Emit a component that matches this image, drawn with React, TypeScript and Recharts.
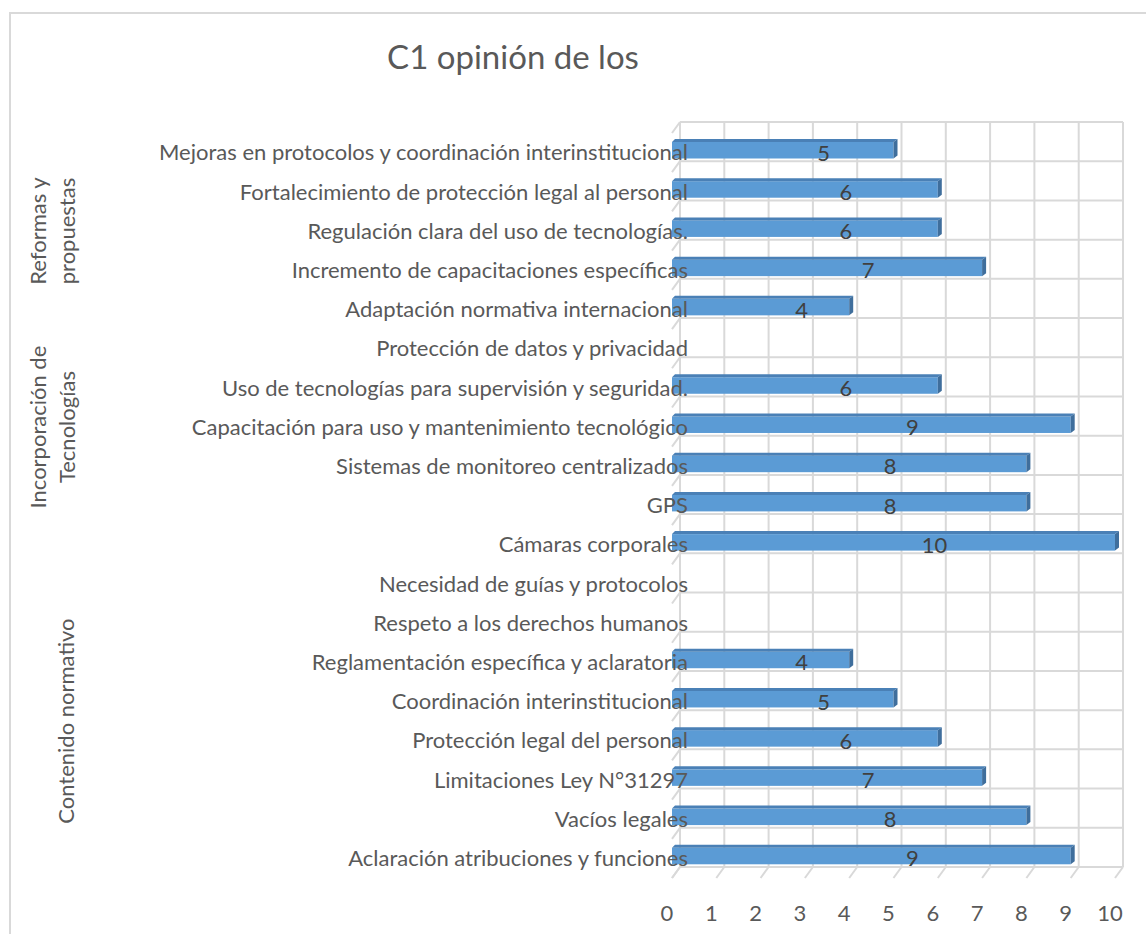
import React from "react";
import { Bar, BarChart, CartesianGrid, XAxis, YAxis } from "recharts";

const categories = [
  "Mejoras en protocolos y coordinación interinstitucional",
  "Fortalecimiento de protección legal al personal",
  "Regulación clara del uso de tecnologías.",
  "Incremento de capacitaciones específicas",
  "Adaptación normativa internacional",
  "Protección de datos y privacidad",
  "Uso de tecnologías para supervisión y seguridad.",
  "Capacitación para uso y mantenimiento tecnológico",
  "Sistemas de monitoreo centralizados",
  "GPS",
  "Cámaras corporales",
  "Necesidad de guías y protocolos",
  "Respeto a los derechos humanos",
  "Reglamentación específica y aclaratoria",
  "Coordinación interinstitucional",
  "Protección legal del personal",
  "Limitaciones Ley N°31297",
  "Vacíos legales",
  "Aclaración atribuciones y funciones",
];

const values: (number | null)[] = [5, 6, 6, 7, 4, null, 6, 9, 8, 8, 10, null, null, 4, 5, 6, 7, 8, 9];

const groupLabels = [["Reformas y", "propuestas"], ["Incorporación de", "Tecnologías"], ["Contenido normativo"]];
// row where each group label sits (excel places them a bit oddly)
const groupAnchorRows = [2, 7, 14.5];

const xTicks = [0, 1, 2, 3, 4, 5, 6, 7, 8, 9, 10];

const title = "C1 opinión de los";

const data = categories.map((name, i) => ({ name, value: values[i] }));

const W = 1146;
const H = 934;
const TOP = 122;
const BOTTOM = 867;
const LEFT = 680;
const RIGHT = 1123;
const BAND = (BOTTOM - TOP) / categories.length;
// 3d depth: front is shifted left/down from the back wall
const DX = 8;
const DY = 11;

const FONT = "Lato, 'Open Sans', sans-serif";
const FS = 22;
const TEXT = "#595959";
const GRID = "#d9d9d9";

function CategoryTick(props: any) {
  const { x, y, payload, index } = props;
  const gi = groupAnchorRows.findIndex((r) => Math.floor(r) === index);
  return (
    <g>
      {index === 0 && (
        <line x1={LEFT - DX} y1={y - BAND / 2 + DY} x2={LEFT} y2={y - BAND / 2} stroke={GRID} strokeWidth={2} />
      )}
      <line x1={LEFT - DX} y1={y + BAND / 2 + DY} x2={LEFT} y2={y + BAND / 2} stroke={GRID} strokeWidth={2} />
      <text x={x + 8} y={y + DY} dy="0.35em" textAnchor="end" fill={TEXT} fontSize={FS} fontFamily={FONT}>
        {payload.value}
      </text>
      {gi >= 0 &&
        (() => {
          const lines = groupLabels[gi];
          const cy = y + DY + (groupAnchorRows[gi] - index) * BAND;
          const cols = lines.length === 1 ? [66] : [38, 67];
          return lines.map((ln, k) => (
            <text
              key={k}
              x={cols[k]}
              y={cy}
              dy="0.35em"
              textAnchor="middle"
              transform={`rotate(-90 ${cols[k]} ${cy})`}
              fill={TEXT}
              fontSize={FS}
              fontFamily={FONT}
            >
              {ln}
            </text>
          ));
        })()}
    </g>
  );
}

function ValueTick(props: any) {
  const { x, y, payload } = props;
  return (
    <g>
      <line x1={x - DX} y1={y + DY} x2={x} y2={y} stroke={GRID} strokeWidth={2} />
      <text x={x - 13} y={y + 46} dy="0.35em" textAnchor="middle" fill={TEXT} fontSize={FS} fontFamily={FONT}>
        {payload.value}
      </text>
    </g>
  );
}

function Bar3D(props: any) {
  const { x, y, width, height, value } = props;
  if (value == null || !(width > 0)) return <g />;
  const cy = y + height / 2;
  const x0 = x - DX;
  const xe = x + width - DX;
  const ft = cy;
  const fb = cy + 16.5;
  return (
    <g>
      <rect x={x0} y={ft} width={xe - x0} height={fb - ft} fill="#5b9bd5" />
      <polygon points={`${x0},${ft} ${x0 + 3},${ft - 3} ${xe + 4},${ft - 3} ${xe},${ft}`} fill="#4a80b6" />
      <polygon points={`${xe},${ft} ${xe + 4},${ft - 3} ${xe + 4},${fb - 3} ${xe},${fb}`} fill="#3f6e9c" />
      <text
        x={x0 + width / 2 + 41}
        y={cy + DY}
        dy="0.35em"
        textAnchor="middle"
        fill="#404040"
        fontSize={FS}
        fontFamily={FONT}
      >
        {value}
      </text>
    </g>
  );
}

function bandBoundaries({ yAxis }: any) {
  const s = yAxis?.scale;
  if (!s) return [];
  const call = (v: any) => (typeof s === "function" ? s(v) : s.map(v));
  const bw = typeof s.bandwidth === "function" ? s.bandwidth() : 0;
  const dom: any[] = typeof s.domain === "function" ? s.domain() : [];
  const pts = dom.map((d) => call(d));
  if (dom.length) pts.push(call(dom[dom.length - 1]) + bw);
  return pts;
}

export default function App() {
  return (
    <div style={{ position: "absolute", left: 0, top: 0, width: W, height: H, overflow: "hidden", background: "#fff" }}>
      <div
        style={{
          position: "absolute",
          left: 9,
          top: 12,
          width: W,
          height: H,
          border: `2px solid ${GRID}`,
        }}
      />
      <div
        style={{
          position: "absolute",
          left: 0,
          top: 36,
          width: 1026,
          textAlign: "center",
          fontFamily: FONT,
          fontSize: 33,
          color: TEXT,
        }}
      >
        {title}
      </div>
      <div style={{ position: "absolute", left: 0, top: 0 }}>
        <BarChart
          width={W}
          height={H}
          data={data}
          layout="vertical"
          margin={{ top: TOP, right: W - RIGHT, bottom: 0, left: 0 }}
          barSize={20}
        >
          <CartesianGrid
            stroke={GRID}
            strokeWidth={2}
            horizontalCoordinatesGenerator={bandBoundaries}
          />
          <XAxis
            type="number"
            domain={[0, 10]}
            ticks={xTicks}
            axisLine={false}
            tickLine={false}
            tickSize={0}
            tickMargin={0}
            height={H - BOTTOM}
            tick={<ValueTick />}
            interval={0}
          />
          <YAxis
            type="category"
            dataKey="name"
            width={LEFT}
            axisLine={false}
            tickLine={false}
            tickSize={0}
            tickMargin={0}
            interval={0}
            tick={<CategoryTick />}
          />
          <Bar dataKey="value" shape={<Bar3D />} isAnimationActive={false} />
        </BarChart>
      </div>
    </div>
  );
}
